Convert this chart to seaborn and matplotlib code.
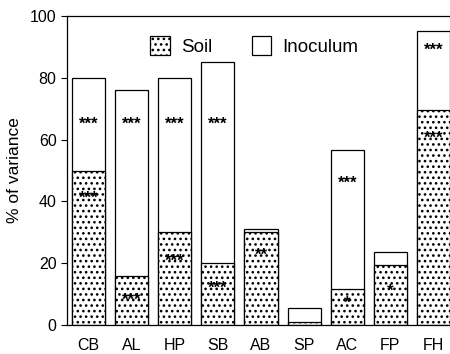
import matplotlib

matplotlib.use("Agg")
import matplotlib.pyplot as plt
import pandas as pd
import seaborn as sns

# --- data ------------------------------------------------------------------
SITES = ["CB", "AL", "HP", "SB", "AB", "SP", "AC", "FP", "FH"]
TOTAL = [80, 76, 80, 85, 31, 5.5, 56.5, 23.5, 95]       # soil + inoculum
SOIL = [50, 16, 30, 20, 30, 1, 11.5, 19.5, 69.5]
INOC_SIG = ["***", "***", "***", "***", "", "", "***", "", "***"]
INOC_SIG_Y = [65, 65, 65, 65, 0, 0, 46, 0, 89]
SOIL_SIG = ["***", "***", "***", "***", "**", "", "*", "*", "***"]
SOIL_SIG_Y = [41, 8, 20.5, 12, 22.5, 0, 7, 11, 60.5]
Y_TICKS = [0, 20, 40, 60, 80, 100]


def main() -> None:
    sns.set_style("ticks")
    plt.rcParams["font.family"] = ["Liberation Sans", "DejaVu Sans"]
    plt.rcParams["hatch.linewidth"] = 1.1
    for key in ["text.color", "axes.labelcolor", "xtick.color", "ytick.color"]:
        plt.rcParams[key] = "black"

    df = pd.DataFrame({"site": SITES, "total": TOTAL, "soil": SOIL})

    fig = plt.figure(figsize=(4.5, 3.54), dpi=100)
    ax = fig.add_axes([67 / 450, 1 - 325 / 354, 388 / 450, 309 / 354])

    # inoculum on top = white bar to the total height, soil drawn over it
    sns.barplot(data=df, x="site", y="total", color="white", edgecolor="black",
                linewidth=0.9, width=0.77, saturation=1, ax=ax, label="Inoculum")
    sns.barplot(data=df, x="site", y="soil", color="white", edgecolor="black",
                linewidth=0.9, width=0.77, saturation=1, hatch="...", ax=ax,
                label="Soil")

    for i in range(len(SITES)):
        if INOC_SIG[i]:
            ax.text(i, INOC_SIG_Y[i], INOC_SIG[i], ha="center", va="center",
                    fontsize=12, fontweight="bold")
        if SOIL_SIG[i]:
            ax.text(i, SOIL_SIG_Y[i], SOIL_SIG[i], ha="center", va="center",
                    fontsize=12, fontweight="bold")

    ax.set_xlim(-0.5, len(SITES) - 0.5)
    ax.set_ylim(0, 100)
    ax.set_yticks(Y_TICKS)
    ax.tick_params(axis="y", labelsize=11.5, length=4, width=0.8)
    ax.tick_params(axis="x", labelsize=11.5, length=0, pad=9)
    ax.set_xlabel("")
    ax.set_ylabel("% of variance", fontsize=12.5, labelpad=6)
    for side in ["left", "bottom", "top", "right"]:
        ax.spines[side].set_linewidth(0.9)
        ax.spines[side].set_color("black")

    handles, labels = ax.get_legend_handles_labels()
    order = [labels.index("Soil"), labels.index("Inoculum")]
    ax.legend([handles[k] for k in order], [labels[k] for k in order],
              loc="upper center", bbox_to_anchor=(0.483, 0.99), ncol=2,
              frameon=False, fontsize=13.5, handlelength=1.05, handleheight=1.15,
              columnspacing=2.1, handletextpad=0.6)

    fig.savefig("out.png", dpi=100)
    plt.close(fig)


if __name__ == "__main__":
    main()
